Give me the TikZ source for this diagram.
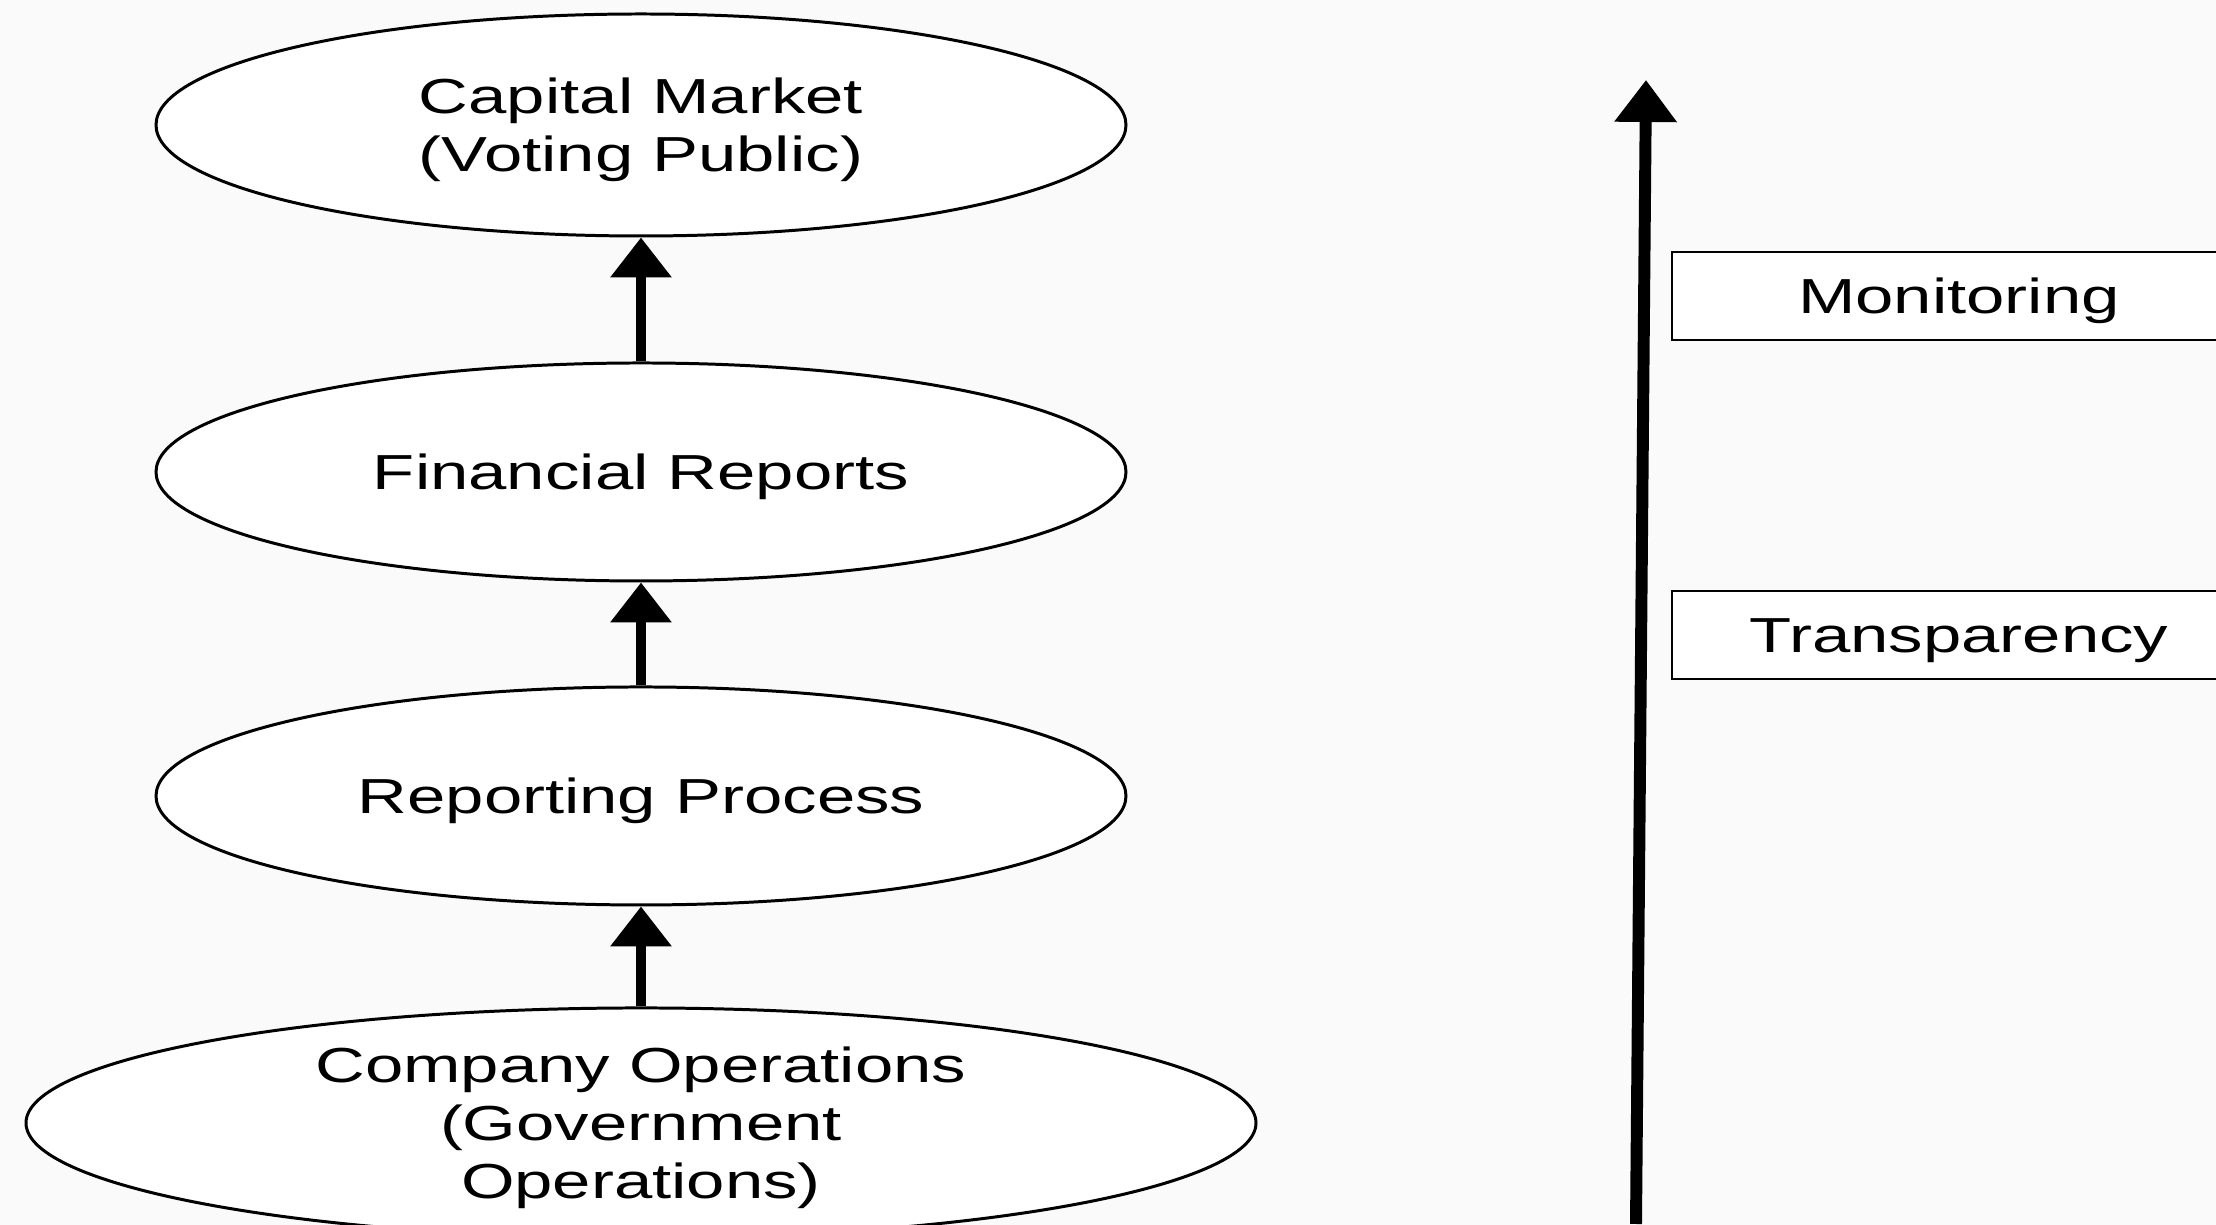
\documentclass[tikz,border=0pt]{standalone}
\usepackage{fontspec}
\setmainfont{Liberation Sans}[FakeStretch=1.4]
\usepackage{xcolor}
\usepackage{tikz}
\usetikzlibrary{shapes.geometric,positioning,arrows.meta}

\definecolor{bgcol}{HTML}{FAFAFA}

\begin{document}
\begin{tikzpicture}[>={Triangle[length=4mm,width=5.9mm]}, line width=0.85pt,
			font=\fontsize{14}{16.5}\selectfont,
			stage/.style={ellipse, draw, fill=white, inner sep=0pt, align=center, text depth=0pt, minimum width=9.7cm, minimum height=2.18cm},
			tag/.style={rectangle, draw, fill=white, line width=0.7pt, text height=10pt, text depth=0pt, minimum width=5.74cm, minimum height=0.88cm},
			flow/.style={->, line width=2.85pt}]
			\useasboundingbox (0,0) rectangle (22.16,-12.25);
			\clip (0,0) rectangle (22.16,-12.25);
			\fill[bgcol] (0,0) rectangle (22.16,-12.25);

			\node[stage, minimum height=2.22cm] (cap) at (6.41,-1.25) {Capital Market\\(Voting Public)};
			\node[stage] (fin) [below=1.24cm of cap] {Financial Reports};
			\node[stage] (rep) [below=1.03cm of fin] {Reporting Process};
			\node[stage, minimum width=12.3cm, minimum height=2.3cm] (ops) [below=1.0cm of rep] {Company Operations\\(Government\\Operations)};

			\draw[flow] (fin.north) -- (cap.south);
			\draw[flow] (rep.north) -- (fin.south);
			\draw[flow] (ops.north) -- (rep.south);

			\coordinate (low) at (16.36,-12.24);
			\coordinate (high) at (16.46,-0.80);
			\draw[->, line width=3.4pt, >={Triangle[length=4.2mm,width=6mm]}] (low) -- (high);

			\node[tag] (mon) at (19.59,-2.96) {Monitoring};
			\node[tag] (trans) at (19.59,-6.35) {Transparency};
		\end{tikzpicture}
\end{document}
